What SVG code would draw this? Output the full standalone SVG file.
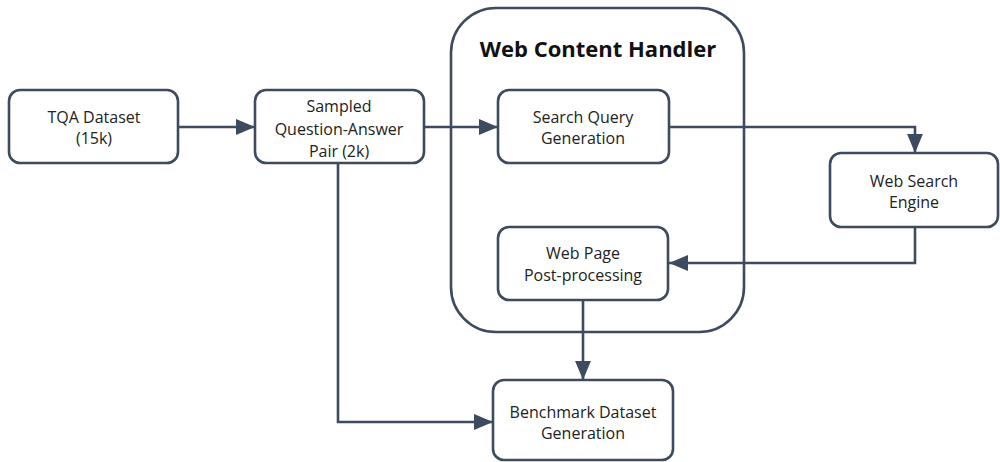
<svg xmlns="http://www.w3.org/2000/svg" width="1000" height="462" viewBox="0 0 1000 462">
<style>
.box{fill:#ffffff;stroke:#3d4b60;stroke-width:2.6}
.t{font-family:"Open Sans","Liberation Sans",sans-serif;font-size:16px;fill:#222;text-anchor:middle}
.title{font-family:"Open Sans","Liberation Sans",sans-serif;font-size:22px;font-weight:bold;fill:#111;text-anchor:middle}
.c{fill:none;stroke:#3d4b60;stroke-width:2.6}
</style>
<defs>
<marker id="arr" viewBox="0 0 12 10" refX="12" refY="5" markerWidth="19" markerHeight="16" markerUnits="userSpaceOnUse" orient="auto">
<path d="M0,0 L12,5 L0,10 Z" fill="#3d4b60"/>
</marker>
</defs>
<rect width="1000" height="462" fill="#ffffff"/>
<g id="web-content-handler">
<rect class="box" x="451" y="8" width="293" height="324" rx="45"/>
<text class="title" x="598" y="57">Web Content Handler</text>
</g>
<g id="connectors">
<path class="c" d="M178,127 H255" marker-end="url(#arr)"/>
<path class="c" d="M424,127 H498" marker-end="url(#arr)"/>
<path class="c" d="M669,127 H915 V153" marker-end="url(#arr)"/>
<path class="c" d="M915,227 V263 H669" marker-end="url(#arr)"/>
<path class="c" d="M583,300 V380" marker-end="url(#arr)"/>
<path class="c" d="M338,163 V422 H493" marker-end="url(#arr)"/>
</g>
<g id="tqa">
<rect class="box" x="9" y="90" width="169" height="73" rx="11"/>
<text class="t" x="94" y="123">TQA Dataset</text>
<text class="t" x="94" y="144">(15k)</text>
</g>
<g id="sampled">
<rect class="box" x="255" y="90" width="169" height="73" rx="11"/>
<text class="t" x="339" y="112">Sampled</text>
<text class="t" x="339" y="135">Question-Answer</text>
<text class="t" x="339" y="157">Pair (2k)</text>
</g>
<g id="search-query">
<rect class="box" x="498" y="90" width="171" height="73" rx="11"/>
<text class="t" x="583" y="123">Search Query</text>
<text class="t" x="583" y="144">Generation</text>
</g>
<g id="web-search">
<rect class="box" x="830" y="153" width="168" height="74" rx="11"/>
<text class="t" x="914" y="187">Web Search</text>
<text class="t" x="914" y="208">Engine</text>
</g>
<g id="web-page">
<rect class="box" x="498" y="227" width="170" height="73" rx="11"/>
<text class="t" x="583" y="259">Web Page</text>
<text class="t" x="583" y="281">Post-processing</text>
</g>
<g id="benchmark">
<rect class="box" x="493" y="380" width="180" height="80" rx="11"/>
<text class="t" x="583" y="418">Benchmark Dataset</text>
<text class="t" x="583" y="439">Generation</text>
</g>
</svg>
